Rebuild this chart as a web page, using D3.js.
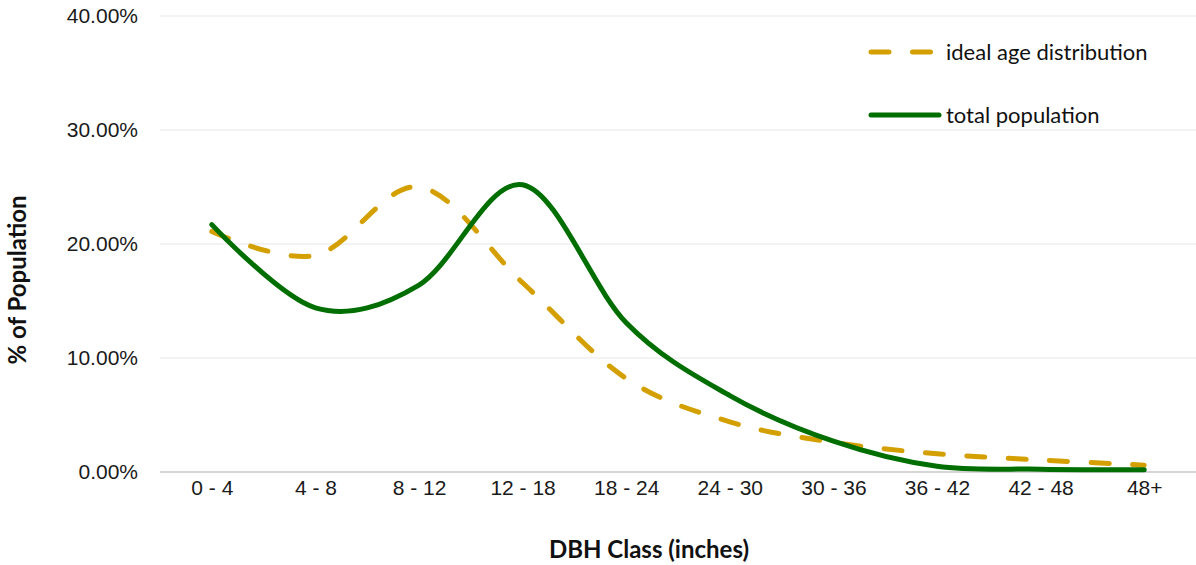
<!DOCTYPE html>
<html lang="en">
  <head>
    <meta charset="UTF-8" />
    <title>DBH Class distribution</title>
    <style>
      body {
        margin: 0;
        overflow: hidden;
        background: #fff;
        font-family: Lato, "Open Sans", sans-serif;
      }
      .tick text {
        font-size: 21px;
        fill: #1a1a1a;
      }
      .axis-title {
        font-size: 24px;
        font-weight: bold;
        fill: #111;
      }
      .legend text {
        font-size: 22px;
        fill: #111;
      }
    </style>
    <script src="https://unpkg.com/d3@7.8.1/dist/d3.min.js"></script>
  </head>
  <body>
    <script>
      const { select, scaleLinear, scalePoint, axisLeft, axisBottom, line, curveCardinal } = d3;

      // data (percent)
      const classes = ["0 - 4", "4 - 8", "8 - 12", "12 - 18", "18 - 24", "24 - 30", "30 - 36", "36 - 42", "42 - 48", "48+"];
      const ideal = [21.1, 19.0, 25.0, 16.6, 8.2, 4.4, 2.6, 1.6, 1.05, 0.6];
      const total = [21.7, 14.4, 16.4, 25.2, 13.1, 6.7, 2.7, 0.5, 0.25, 0.2];
      const yTicks = [0, 10, 20, 30, 40];

      const width = 1196;
      const height = 565;
      const margin = { top: 16, right: 0, bottom: 93, left: 160 };

      const svg = select("body")
        .append("svg")
        .attr("width", width)
        .attr("height", height);

      const x = scalePoint()
        .domain(classes)
        .range([margin.left, width - margin.right])
        .padding(0.5);

      const y = scaleLinear()
        .domain([0, 40])
        .range([height - margin.bottom, margin.top]);

      // gridlines
      svg.append("g")
        .selectAll("line")
        .data(yTicks)
        .join("line")
        .attr("x1", margin.left)
        .attr("x2", width - margin.right)
        .attr("y1", d => y(d))
        .attr("y2", d => y(d))
        .attr("stroke", d => (d === 0 ? "#d6d6d6" : "#efefef"))
        .attr("stroke-width", d => (d === 0 ? 2 : 1.5));

      // y axis labels
      const yAxis = svg.append("g")
        .attr("transform", `translate(${margin.left - 4}, 0)`)
        .call(axisLeft(y).tickValues(yTicks).tickSize(0).tickPadding(18)
          .tickFormat(d => d.toFixed(2) + "%"));
      yAxis.select(".domain").remove();

      // x axis labels
      const xAxis = svg.append("g")
        .attr("transform", `translate(0, ${y(0)})`)
        .call(axisBottom(x).tickSize(0).tickPadding(8));
      xAxis.select(".domain").remove();

      // axis titles
      svg.append("text")
        .attr("class", "axis-title")
        .attr("transform", `translate(26, ${(margin.top + y(0)) / 2 + 36}) rotate(-90)`)
        .attr("text-anchor", "middle")
        .text("% of Population");

      svg.append("text")
        .attr("class", "axis-title")
        .attr("x", 649)
        .attr("y", 558)
        .attr("text-anchor", "middle")
        .text("DBH Class (inches)");

      const lineGen = line()
        .x((d, i) => x(classes[i]))
        .y(d => y(d))
        .curve(curveCardinal.tension(0));

      svg.append("path")
        .datum(ideal)
        .attr("d", lineGen)
        .attr("fill", "none")
        .attr("stroke", "#d4a000")
        .attr("stroke-width", 5)
        .attr("stroke-linecap", "round")
        .attr("stroke-dasharray", "18,23.5");

      svg.append("path")
        .datum(total)
        .attr("d", lineGen)
        .attr("fill", "none")
        .attr("stroke", "#006e00")
        .attr("stroke-width", 5)
        .attr("stroke-linecap", "round");

      // legend
      const legend = svg.append("g").attr("class", "legend");
      legend.append("line")
        .attr("x1", 871).attr("x2", 931)
        .attr("y1", 52).attr("y2", 52)
        .attr("stroke", "#d4a000")
        .attr("stroke-width", 5)
        .attr("stroke-linecap", "round")
        .attr("stroke-dasharray", "18,23.5");
      legend.append("text")
        .attr("x", 946).attr("y", 52)
        .attr("dy", "0.35em")
        .text("ideal age distribution");
      legend.append("line")
        .attr("x1", 871).attr("x2", 939)
        .attr("y1", 115).attr("y2", 115)
        .attr("stroke", "#006e00")
        .attr("stroke-width", 5)
        .attr("stroke-linecap", "round");
      legend.append("text")
        .attr("x", 946).attr("y", 115)
        .attr("dy", "0.35em")
        .text("total population");
    </script>
  </body>
</html>
